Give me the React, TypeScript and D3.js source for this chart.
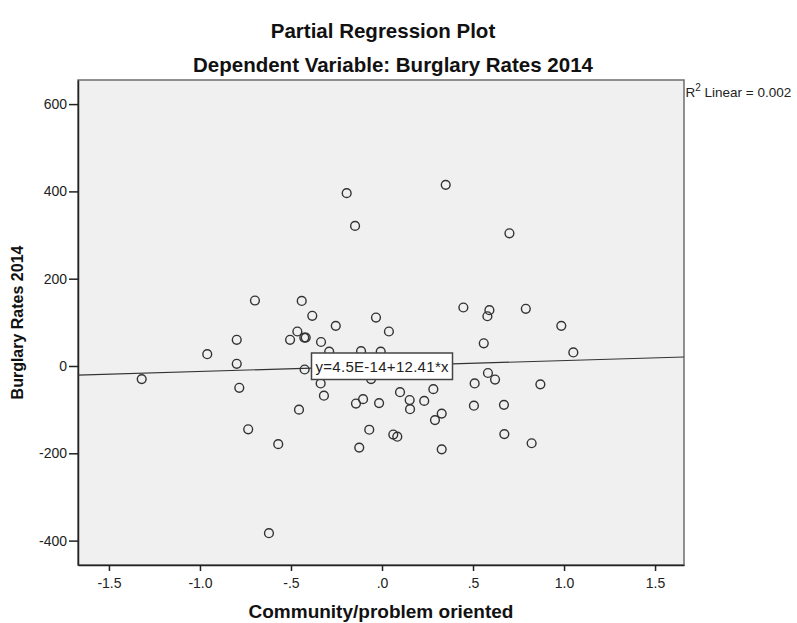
import { useEffect, useRef } from "react"
import * as d3 from "d3"

// partial residuals
const xValues = [
  -0.194, -0.148, 0.35, 0.7, -0.698, -0.798, -0.96, -0.798, -1.32, -0.784,
  -0.735, -0.57, -0.441, -0.383, -0.465, -0.505, -0.427, -0.419, -0.254, -0.335,
  -0.29, -0.115, -0.033, 0.038, -0.007, -0.425, -0.06, -0.337, -0.319, -0.456,
  -0.143, -0.104, -0.016, 0.099, 0.152, 0.154, -0.07, 0.062, 0.084, -0.125,
  0.232, 0.282, 0.328, 0.291, 0.328, 0.447, 0.59, 0.579, 0.79, 0.559,
  0.582, 0.621, 0.509, 0.505, 0.67, 0.672, 0.822, 0.87, 0.985, 1.051,
  -0.621,
]
const yValues = [
  396, 321, 415, 304, 150, 60, 27, 5, -30, -50,
  -145, -179, 149, 115, 79, 60, 65, 65, 92, 55,
  33, 34, 111, 79, 33, -8, -30, -40, -68, -100,
  -86, -76, -85, -60, -78, -99, -146, -157, -162, -187,
  -80, -53, -109, -124, -191, 134, 128, 114, 131, 52,
  -16, -31, -40, -91, -89, -156, -177, -42, 92, 31,
  -383,
]

const xTicks = [-1.5, -1.0, -0.5, 0, 0.5, 1.0, 1.5]
const xTickLabels = ["-1.5", "-1.0", "-.5", ".0", ".5", "1.0", "1.5"]
const yTicks = [600, 400, 200, 0, -200, -400]

const intercept = 4.5e-14
const slope = 12.41
const fitLabel = "y=4.5E-14+12.41*x"

const font = "'Liberation Sans', Arial, sans-serif"

export default function App() {
  const svgRef = useRef<SVGSVGElement>(null)

  useEffect(() => {
    const svg = d3.select(svgRef.current)
    const width = 797
    const height = 623
    const margin = { top: 80, right: 113, bottom: 58, left: 78 }

    svg.selectAll("*").remove()
    svg.attr("width", width).attr("height", height)

    const x = d3.scaleLinear()
      .domain([-1.67, 1.659])
      .range([margin.left, width - margin.right])

    const y = d3.scaleLinear()
      .domain([-455.9, 655.2])
      .range([height - margin.bottom, margin.top])

    const [x0, x1] = x.range()
    const [y0, y1] = y.range()

    // plot background
    svg.append("rect")
      .attr("x", x0)
      .attr("y", y1)
      .attr("width", x1 - x0)
      .attr("height", y0 - y1)
      .attr("fill", "#f0f0f0")
      .attr("stroke", "#6e6e6e")
      .attr("stroke-width", 1.5)

    // axes
    const xAxis = svg.append("g")
      .attr("transform", `translate(0,${y0})`)
      .call(d3.axisBottom(x)
        .tickValues(xTicks)
        .tickSize(6)
        .tickSizeOuter(0)
        .tickFormat((d, i) => xTickLabels[i])
      )
    xAxis.select(".domain").attr("stroke", "#222").attr("stroke-width", 1.5)
    xAxis.selectAll(".tick line").attr("stroke", "#222").attr("stroke-width", 1.5)
    xAxis.selectAll(".tick text")
      .attr("font-family", font)
      .attr("font-size", 14)
      .attr("fill", "#222")
      .attr("dy", "1em")

    const yAxis = svg.append("g")
      .attr("transform", `translate(${x0},0)`)
      .call(d3.axisLeft(y)
        .tickValues(yTicks)
        .tickSize(9)
        .tickSizeOuter(0)
        .tickFormat(d => String(d))
      )
    yAxis.select(".domain").attr("stroke", "#222").attr("stroke-width", 1.5)
    yAxis.selectAll(".tick line").attr("stroke", "#222").attr("stroke-width", 1.5)
    yAxis.selectAll(".tick text")
      .attr("font-family", font)
      .attr("font-size", 14)
      .attr("fill", "#222")
      .attr("x", -11)

    // fit line
    const line = d3.line<number>()
      .x(d => x(d))
      .y(d => y(intercept + slope * d))

    svg.append("path")
      .datum(x.domain())
      .attr("fill", "none")
      .attr("stroke", "#333")
      .attr("stroke-width", 1.2)
      .attr("d", line)

    // points
    svg.selectAll("circle.pt")
      .data(xValues)
      .join("circle")
      .attr("class", "pt")
      .attr("cx", d => x(d))
      .attr("cy", (d, i) => y(yValues[i]))
      .attr("r", 4.4)
      .attr("fill", "none")
      .attr("stroke", "#333")
      .attr("stroke-width", 1.4)

    // equation label
    const lx = x(0)
    const ly = y(intercept)
    const lbl = svg.append("g")
    lbl.append("rect")
      .attr("x", lx - 70.5)
      .attr("y", ly - 13)
      .attr("width", 141)
      .attr("height", 26.5)
      .attr("fill", "#fff")
      .attr("stroke", "#444")
      .attr("stroke-width", 1.5)
    lbl.append("text")
      .attr("x", lx)
      .attr("y", ly + 6)
      .attr("text-anchor", "middle")
      .attr("font-family", font)
      .attr("font-size", 15)
      .attr("textLength", 133)
      .attr("fill", "#222")
      .text(fitLabel)

    // R squared
    const r2 = svg.append("text")
      .attr("x", x1 + 1.5)
      .attr("y", 97)
      .attr("font-family", font)
      .attr("font-size", 13.5)
      .attr("fill", "#222")
    r2.append("tspan").text("R")
    r2.append("tspan").attr("font-size", 10).attr("dy", -6).text("2")
    r2.append("tspan").attr("dy", 6).text(" Linear = 0.002")

    // titles
    const title = (tx: number, ty: number, txt: string, size: number) =>
      svg.append("text")
        .attr("x", tx)
        .attr("y", ty)
        .attr("text-anchor", "middle")
        .attr("font-family", font)
        .attr("font-weight", "bold")
        .attr("font-size", size)
        .attr("fill", "#111")
        .text(txt)

    title(383, 38, "Partial Regression Plot", 20.5)
    title(393, 72, "Dependent Variable: Burglary Rates 2014", 20.5)
    title((x0 + x1) / 2, 618, "Community/problem oriented", 19)

    svg.append("text")
      .attr("transform", `translate(23,${(y0 + y1) / 2}) rotate(-90)`)
      .attr("text-anchor", "middle")
      .attr("font-family", font)
      .attr("font-weight", "bold")
      .attr("font-size", 16)
      .attr("fill", "#111")
      .text("Burglary Rates 2014")
  }, [])

  return (
    <svg
      ref={svgRef}
      style={{ position: "absolute", left: 0, top: 0, display: "block", background: "#fff" }}
    />
  )
}
